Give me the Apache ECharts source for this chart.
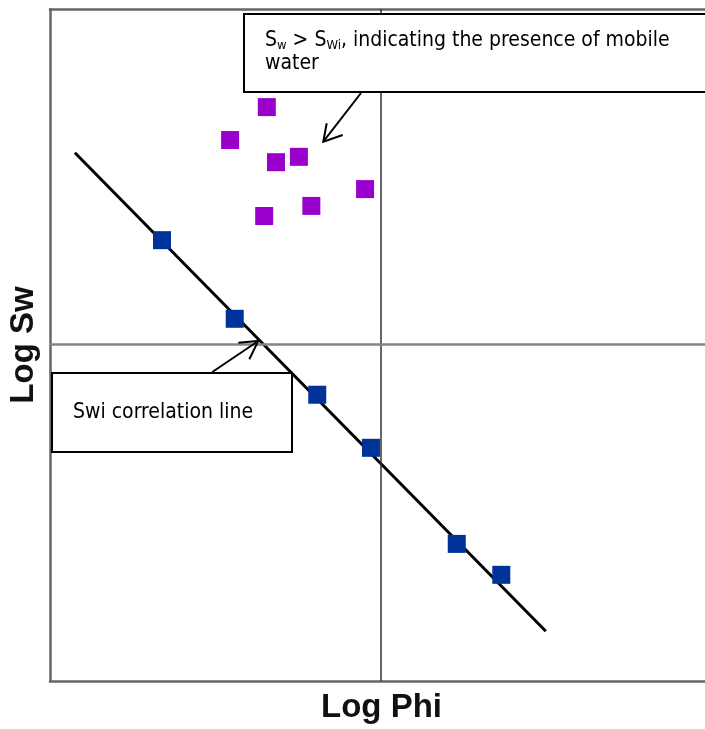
<!DOCTYPE html>
<html>
<head>
<meta charset="utf-8">
<script src="https://cdn.jsdelivr.net/npm/echarts@6/dist/echarts.min.js"></script>
<style>
    html, body { margin: 0; padding: 0; background: #fff; }
    #chart { width: 705px; height: 729px; }
</style>
</head>
<body>
<div id="chart"></div>
<script>
    // 数据（对数坐标下的相对位置，0-100）
    var swiPoints = [[17.1, 65.6], [28.2, 53.9], [40.8, 42.6], [49.0, 34.7], [62.1, 20.4], [68.9, 15.8]];
    var mobilePoints = [[33.1, 85.4], [27.5, 80.5], [34.5, 77.2], [38.0, 78.0], [48.1, 73.2], [32.7, 69.2], [39.9, 70.7]];
    var swiLine = [[3.8, 78.6], [75.7, 7.4]];
    var cutoffPhi = 50.5;  // 竖线
    var cutoffSw = 50.15;  // 横线

    var chart = echarts.init(document.getElementById('chart'));
    var frameColor = '#666';
    var labelFont = '"DejaVu Sans Condensed", "DejaVu Sans", Tahoma, sans-serif';

    var option = {
        animation: false,
        grid: { left: 50, right: 0, top: 9, bottom: 48, outerBoundsMode: 'none', containLabel: false },
        xAxis: [
            {
                type: 'value', min: 0, max: 100, position: 'bottom',
                name: 'Log Phi', nameLocation: 'middle', nameGap: 10,
                nameTextStyle: {
                    fontFamily: '"Liberation Sans", Arial, sans-serif', fontWeight: 'bold',
                    fontSize: 33, color: '#111', verticalAlign: 'top', padding: [0, 0, 0, 8]
                },
                axisLine: { show: true, lineStyle: { color: frameColor, width: 2.5 } },
                axisTick: { show: false }, axisLabel: { show: false }, splitLine: { show: false }
            },
            {
                type: 'value', min: 0, max: 100, position: 'top',
                axisLine: { show: true, lineStyle: { color: frameColor, width: 2.5 } },
                axisTick: { show: false }, axisLabel: { show: false }, splitLine: { show: false }
            }
        ],
        yAxis: {
            type: 'value', min: 0, max: 100,
            name: 'Log Sw', nameLocation: 'middle', nameGap: 10,
            nameTextStyle: {
                fontFamily: '"Liberation Sans", Arial, sans-serif', fontWeight: 'bold',
                fontSize: 33, color: '#111'
            },
            axisLine: { show: true, lineStyle: { color: frameColor, width: 2.5 } },
            axisTick: { show: false }, axisLabel: { show: false }, splitLine: { show: false }
        },
        series: [
            {
                type: 'line',
                data: swiLine,
                symbol: 'none',
                lineStyle: { color: '#000', width: 3 },
                z: 2,
                markLine: {
                    silent: true, symbol: 'none', label: { show: false },
                    data: [
                        { xAxis: cutoffPhi, lineStyle: { color: '#333', width: 1.5, type: 'solid' } },
                        { yAxis: cutoffSw, lineStyle: { color: '#858585', width: 2.5, type: 'solid' } }
                    ]
                }
            },
            {
                type: 'scatter',
                data: swiPoints,
                symbol: 'rect', symbolSize: 18,
                itemStyle: { color: '#003399', opacity: 1 },
                z: 3
            },
            {
                type: 'scatter',
                data: mobilePoints,
                symbol: 'rect', symbolSize: 18,
                itemStyle: { color: '#9900CC', opacity: 1 },
                z: 3
            }
        ],
        graphic: [
            // 上方说明框
            {
                type: 'rect', z: 10,
                shape: { x: 244, y: 14, width: 480, height: 78 },
                style: { fill: '#fff', stroke: '#000', lineWidth: 2 }
            },
            {
                type: 'text', z: 11, left: 265, top: 30,
                style: {
                    text: '{a|S}{s|w}{a| > S}{s|Wi}{a|, indicating the presence of mobile}\n{a|water}',
                    fill: '#000',
                    rich: {
                        a: { fontFamily: labelFont, fontSize: 21, lineHeight: 23, fill: '#000' },
                        s: { fontFamily: labelFont, fontSize: 13, lineHeight: 23, verticalAlign: 'bottom', fill: '#000' }
                    }
                }
            },
            {
                type: 'polyline', z: 11,
                shape: { points: [[361, 93], [323.3, 141.7]] },
                style: { stroke: '#000', lineWidth: 2, fill: null }
            },
            {
                type: 'polyline', z: 11,
                shape: { points: [[342.7, 135], [323.3, 141.7], [326.7, 123.3]] },
                style: { stroke: '#000', lineWidth: 2, fill: null }
            },
            // 下方说明框
            {
                type: 'rect', z: 10,
                shape: { x: 52, y: 373, width: 240, height: 79 },
                style: { fill: '#fff', stroke: '#000', lineWidth: 2 }
            },
            {
                type: 'text', z: 11, left: 73, top: 402,
                style: {
                    text: 'Swi correlation line',
                    fontFamily: labelFont, fontSize: 21, fill: '#000'
                }
            },
            {
                type: 'polyline', z: 11,
                shape: { points: [[212.3, 372], [258.3, 341]] },
                style: { stroke: '#000', lineWidth: 2, fill: null }
            },
            {
                type: 'polyline', z: 11,
                shape: { points: [[238.3, 342.7], [258.3, 341], [249.3, 359.3]] },
                style: { stroke: '#000', lineWidth: 2, fill: null }
            }
        ]
    };
    chart.setOption(option);
</script>
</body>
</html>
